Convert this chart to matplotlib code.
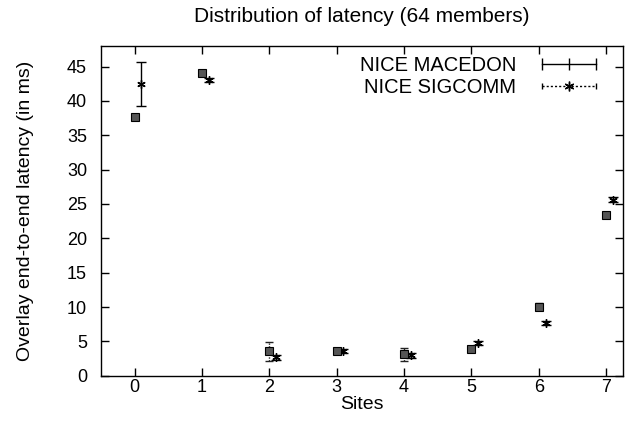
import matplotlib
matplotlib.use('Agg')
import matplotlib.pyplot as plt
from matplotlib.lines import Line2D
from matplotlib.legend_handler import HandlerLine2D

plt.rcParams['font.family'] = ['Liberation Sans', 'DejaVu Sans']

sites = [0, 1, 2, 3, 4, 5, 6, 7]
xticks = [0, 1, 2, 3, 4, 5, 6, 7]
yticks = [0, 5, 10, 15, 20, 25, 30, 35, 40, 45]

# series drawn at the site position (box-like points)
base_vals = [37.65, 44.1, 3.6, 3.65, 3.1, 3.95, 10.07, 23.35]
base_lo = [0.45, 0.45, 1.4, 0.4, 0.9, 0.4, 0.45, 0.45]
base_hi = [0.45, 0.45, 1.36, 0.4, 0.9, 0.4, 0.45, 0.45]

# series drawn slightly to the right of each site
shift_vals = [42.5, 43.05, 2.7, 3.55, 3.0, 4.8, 7.65, 25.6]
shift_lo = [3.3, 0.3, 0.35, 0.3, 0.35, 0.3, 0.3, 0.35]
shift_hi = [3.2, 0.3, 0.35, 0.3, 0.35, 0.3, 0.3, 0.35]

fig = plt.figure(figsize=(6.36, 4.41), dpi=100)
ax = fig.add_axes([0.1588, 0.148, 0.8208, 0.7477])

shift_x = [s + 0.1 for s in sites]
ax.errorbar(shift_x, shift_vals, yerr=[shift_lo, shift_hi],
            fmt='none', ecolor='black', elinewidth=1.0, capsize=3.5, capthick=1.0)
ax.plot(shift_x, shift_vals, linestyle='none', marker=(6, 2, 0),
        markersize=6, color='black', markeredgewidth=1.0)

eb2 = ax.errorbar(sites, base_vals, yerr=[base_lo, base_hi],
                  fmt='none', ecolor='#222222', elinewidth=1.0, capsize=3, capthick=1.0)
eb2[2][0].set_linestyle((0, (1, 1)))
ax.plot(sites, base_vals, linestyle='none', marker='s', markersize=6,
        markerfacecolor='#555555', markeredgecolor='black', markeredgewidth=0.8)

ax.set_xlim(-0.5, 7.25)
ax.set_ylim(0, 48)
ax.set_xticks(xticks)
ax.set_yticks(yticks)
ax.tick_params(direction='in', length=6, width=1, top=True, right=True, labelsize=13)
ax.tick_params(axis='y', pad=10)
ax.tick_params(axis='x', pad=2)
for sp in ax.spines.values():
    sp.set_linewidth(1.0)

ax.set_title('Distribution of latency (64 members)', fontsize=15, pad=17)
ax.set_xlabel('Sites', fontsize=14, labelpad=0)
ax.set_ylabel('Overlay end-to-end latency (in ms)', fontsize=14, labelpad=24)

h1 = Line2D([], [], color='black', linewidth=1.0, marker='|', markersize=8)
h2a = Line2D([], [], color='black', linewidth=1.0, linestyle=(0, (1.5, 1.5)),
             marker='|', markersize=5)
h2b = Line2D([], [], linestyle='none', color='black', marker=(6, 2, 0), markersize=7)
leg = ax.legend([h1, (h2a, h2b)], ['NICE MACEDON', 'NICE SIGCOMM'], loc='upper right',
                frameon=False, markerfirst=False, numpoints=3, handlelength=3.3,
                fontsize=14.5, labelspacing=0.15, borderaxespad=0.3, handletextpad=1.0,
                borderpad=0.2, handler_map={h2b: HandlerLine2D(numpoints=1)},
                bbox_to_anchor=(0.98, 1.0))

fig.savefig('out.png', dpi=100)
